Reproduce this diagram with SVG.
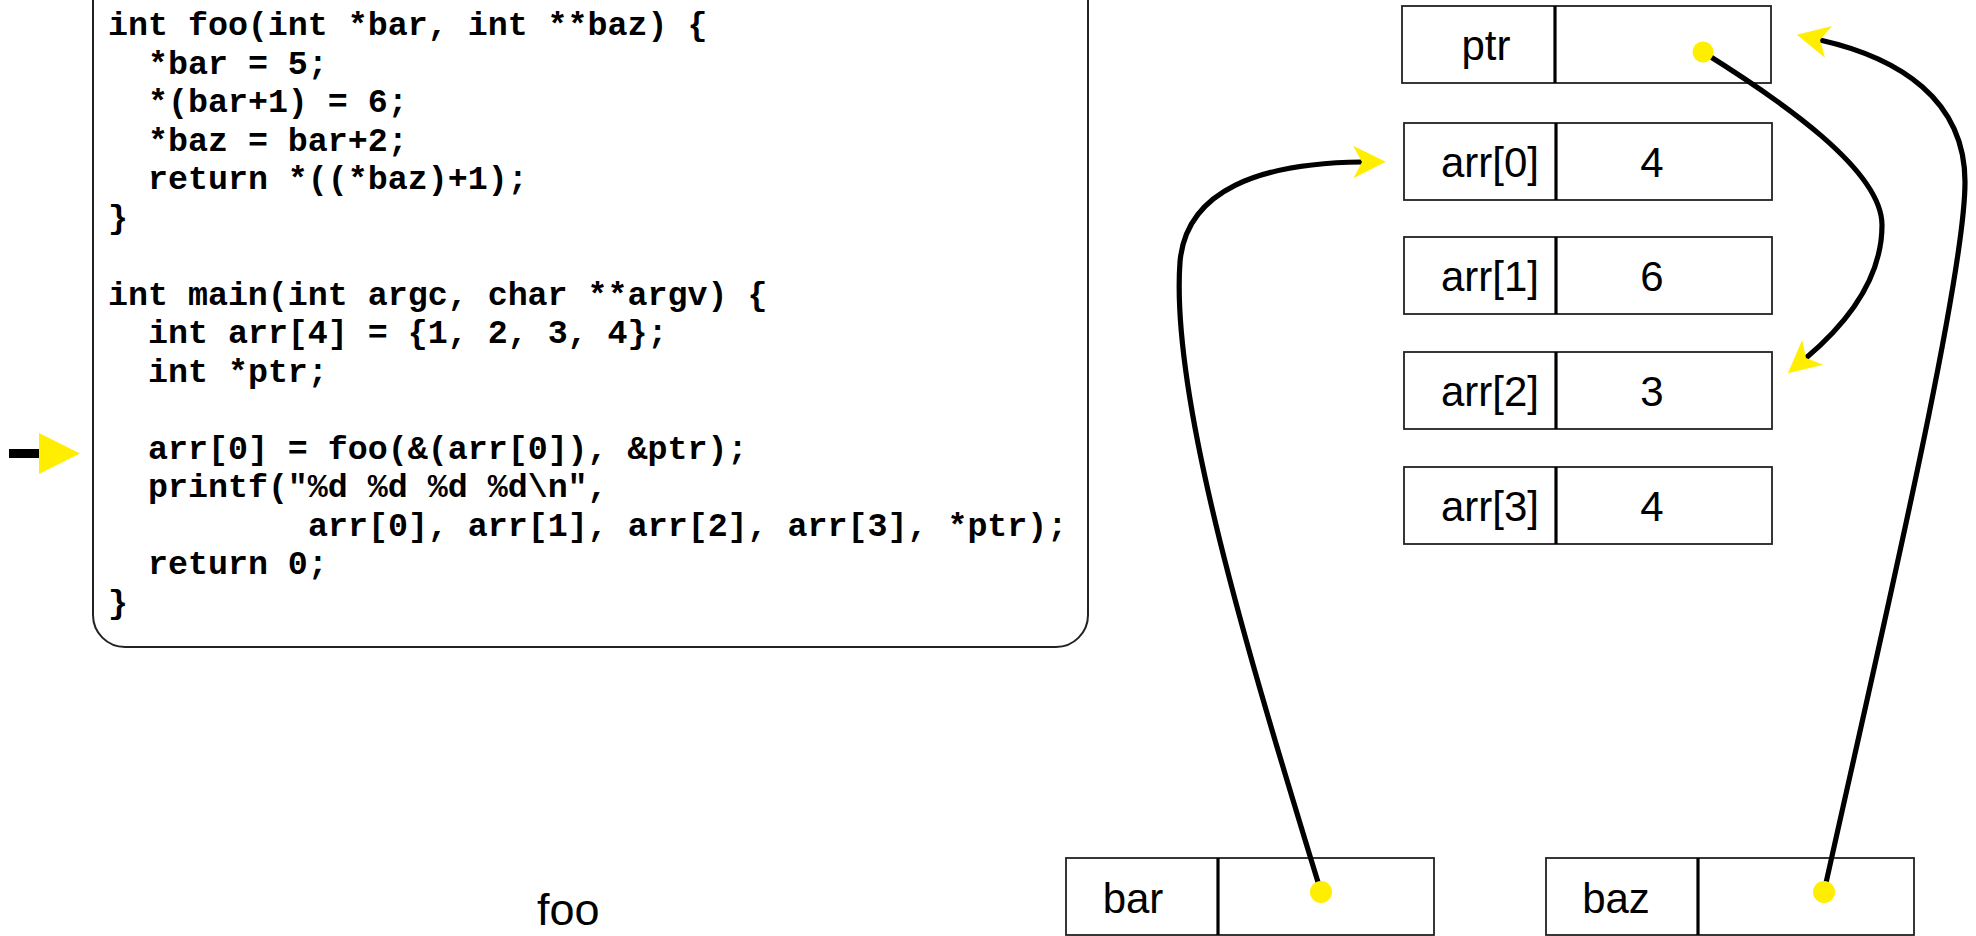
<svg xmlns="http://www.w3.org/2000/svg" width="1976" height="936" viewBox="0 0 1976 936">
<style>
.code{font-family:"Liberation Mono","Courier New",monospace;font-weight:bold;font-size:33.3px;fill:#000}
.lbl{font-family:"Liberation Sans",Arial,sans-serif;font-size:42px;fill:#000;text-anchor:middle}
.box{fill:#fff;stroke:#222;stroke-width:1.8}
.div{stroke:#000;stroke-width:3.2}
.dot{fill:#ffee00}
.conn{fill:none;stroke:#000;stroke-width:5.2;stroke-linecap:round}
</style>
<defs>
<marker id="ah" markerUnits="userSpaceOnUse" markerWidth="40" markerHeight="40" viewBox="-2 -16 32 32" refX="7" refY="0" orient="auto">
<path d="M0,-13 L26,0 L0,13 L7,0 Z" fill="#ffee00"/>
</marker>
</defs>
<rect width="1976" height="936" fill="#fff"/>

<g id="code">
<rect x="93" y="-60" width="995" height="707" rx="32" ry="32" fill="#fff" stroke="#222" stroke-width="2"/>
<text class="code" x="108" y="35">int foo(int *bar, int **baz) {</text>
<text class="code" x="148" y="73.5">*bar = 5;</text>
<text class="code" x="148" y="112">*(bar+1) = 6;</text>
<text class="code" x="148" y="150.5">*baz = bar+2;</text>
<text class="code" x="148" y="189">return *((*baz)+1);</text>
<text class="code" x="108" y="227.5">}</text>
<text class="code" x="108" y="304.5">int main(int argc, char **argv) {</text>
<text class="code" x="148" y="343">int arr[4] = {1, 2, 3, 4};</text>
<text class="code" x="148" y="381.5">int *ptr;</text>
<text class="code" x="148" y="458.5">arr[0] = foo(&amp;(arr[0]), &amp;ptr);</text>
<text class="code" x="148" y="497">printf("%d %d %d %d\n",</text>
<text class="code" x="308" y="535.5">arr[0], arr[1], arr[2], arr[3], *ptr);</text>
<text class="code" x="148" y="574">return 0;</text>
<text class="code" x="108" y="612.5">}</text>
</g>

<g id="pc-arrow">
<rect x="9" y="449" width="31" height="9" fill="#000"/>
<polygon points="39,433 80,453.5 39,474" fill="#ffee00"/>
</g>

<g id="foo-label">
<text x="537" y="925" style="font-family:'Liberation Sans',Arial,sans-serif;font-size:45px;fill:#000">foo</text>
</g>

<g id="ptr">
<rect class="box" x="1402" y="6" width="369" height="77"/>
<line class="div" x1="1555" y1="6" x2="1555" y2="83"/>
<text class="lbl" x="1486" y="60">ptr</text>
</g>
<g id="arr0">
<rect class="box" x="1404" y="123" width="368" height="77"/>
<line class="div" x1="1556" y1="123" x2="1556" y2="200"/>
<text class="lbl" x="1490" y="177">arr[0]</text>
<text class="lbl" x="1652" y="177">4</text>
</g>
<g id="arr1">
<rect class="box" x="1404" y="237" width="368" height="77"/>
<line class="div" x1="1556" y1="237" x2="1556" y2="314"/>
<text class="lbl" x="1490" y="291">arr[1]</text>
<text class="lbl" x="1652" y="291">6</text>
</g>
<g id="arr2">
<rect class="box" x="1404" y="352" width="368" height="77"/>
<line class="div" x1="1556" y1="352" x2="1556" y2="429"/>
<text class="lbl" x="1490" y="406">arr[2]</text>
<text class="lbl" x="1652" y="406">3</text>
</g>
<g id="arr3">
<rect class="box" x="1404" y="467" width="368" height="77"/>
<line class="div" x1="1556" y1="467" x2="1556" y2="544"/>
<text class="lbl" x="1490" y="521">arr[3]</text>
<text class="lbl" x="1652" y="521">4</text>
</g>
<g id="bar">
<rect class="box" x="1066" y="858" width="368" height="77"/>
<line class="div" x1="1218" y1="858" x2="1218" y2="935"/>
<text class="lbl" x="1133" y="913">bar</text>
</g>
<g id="baz">
<rect class="box" x="1546" y="858" width="368" height="77"/>
<line class="div" x1="1698" y1="858" x2="1698" y2="935"/>
<text class="lbl" x="1616" y="913">baz</text>
</g>

<g id="connectors">
<path class="conn" d="M1321,892 C1250,660 1170,400 1180,262 C1186,190 1260,163 1362,162" marker-end="url(#ah)"/>
<path class="conn" d="M1703,52 C1780,100 1882,170 1882,225 C1882,280 1845,325 1806,358" marker-end="url(#ah)"/>
<path class="conn" d="M1824,892 C1880,640 1965,280 1965,182 C1965,100 1900,58 1820,40" marker-end="url(#ah)"/>
<circle class="dot" cx="1703" cy="52" r="10.5"/>
<circle class="dot" cx="1321" cy="892" r="11"/>
<circle class="dot" cx="1824" cy="892" r="11"/>
</g>
</svg>
